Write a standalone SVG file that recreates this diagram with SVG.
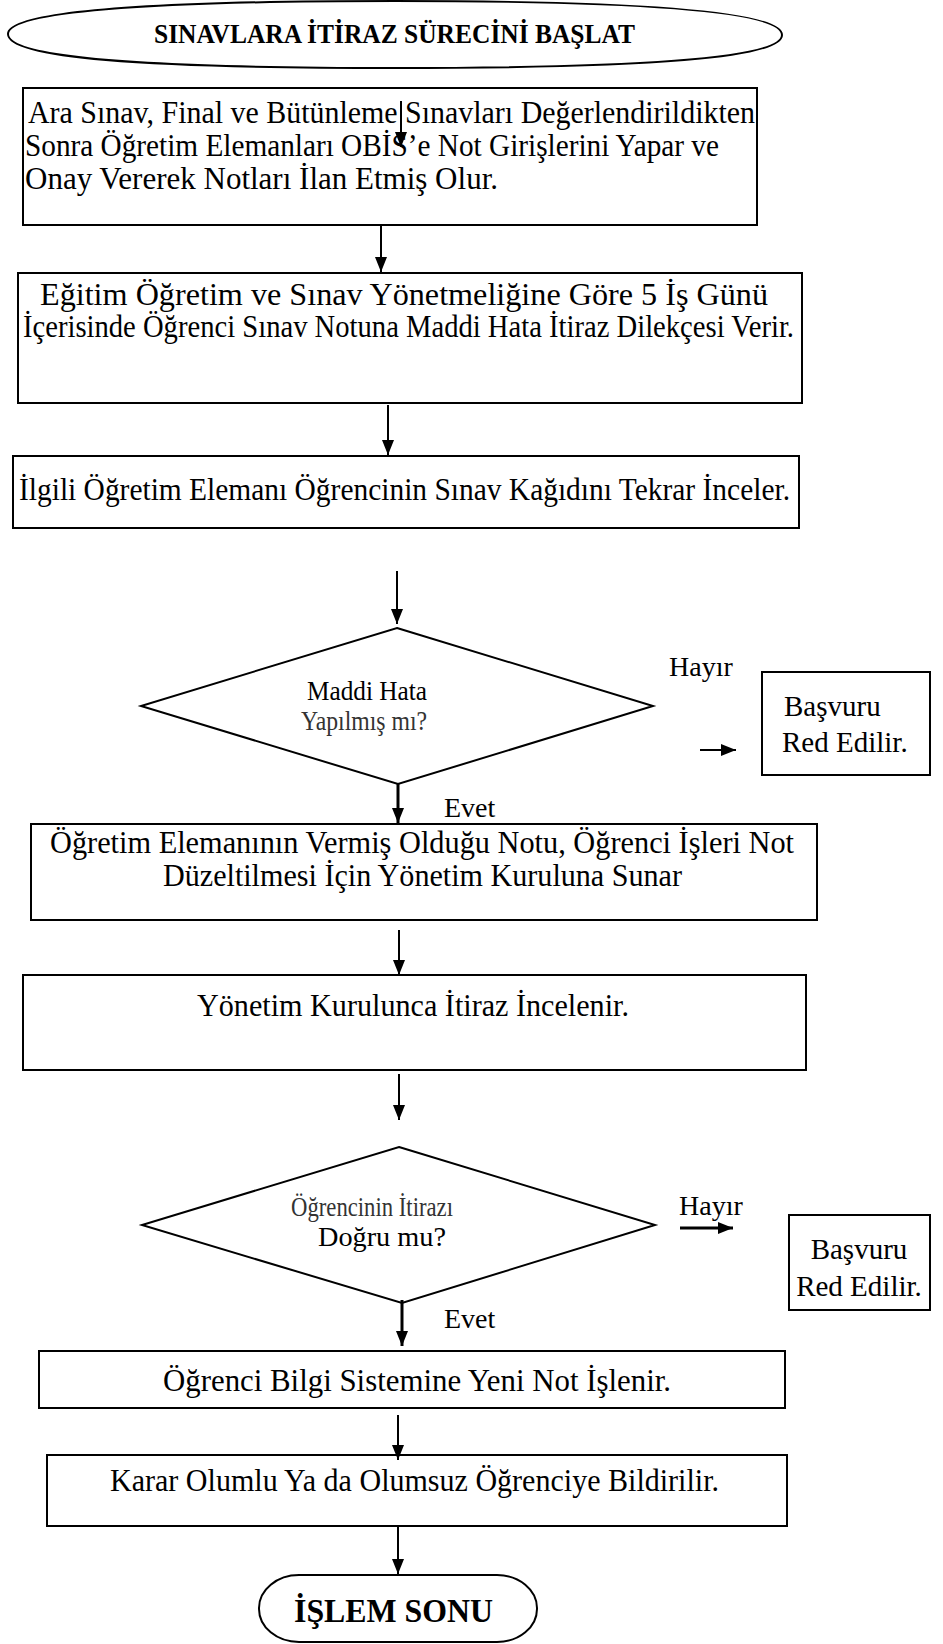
<svg xmlns="http://www.w3.org/2000/svg" width="943" height="1644" viewBox="0 0 943 1644">
<defs>
<marker id="ah" viewBox="0 0 15 12" refX="15" refY="6" markerWidth="15" markerHeight="12" markerUnits="userSpaceOnUse" orient="auto"><path d="M0,0 L15,6 L0,12 z" fill="#000"/></marker>
</defs>
<style>
.box{fill:#fff;stroke:#000;stroke-width:2}
.t{font-family:"Liberation Serif","Times New Roman",serif;font-size:31px;fill:#000}
.tr{font-family:"Liberation Serif","Times New Roman",serif;font-size:29px;fill:#000}
.tb{font-family:"Liberation Serif","Times New Roman",serif;font-weight:bold;fill:#000}
.td{font-family:"Liberation Serif","Times New Roman",serif;font-size:28px}
.c{fill:none;stroke:#000;stroke-width:2}
.ct{fill:none;stroke:#000;stroke-width:3}
</style>
<rect width="943" height="1644" fill="#fff"/>
<g id="start">
<path class="box" d="M8,34 C8,12 140,1 395,1 C650,1 782,12 782,35 C782,58 650,68 395,68 C140,68 8,58 8,34 Z"/>
<text class="tb" x="154" y="43" font-size="27" textLength="481" lengthAdjust="spacingAndGlyphs">SINAVLARA İTİRAZ SÜRECİNİ BAŞLAT</text>
</g>
<g id="n1">
<rect class="box" x="23" y="88" width="734" height="137"/>
<text class="t" x="28" y="123" textLength="727" lengthAdjust="spacingAndGlyphs">Ara Sınav, Final ve Bütünleme Sınavları Değerlendirildikten</text>
<text class="t" x="25" y="156" textLength="694" lengthAdjust="spacingAndGlyphs">Sonra Öğretim Elemanları OBİS’e Not Girişlerini Yapar ve</text>
<text class="t" x="25" y="189" textLength="473" lengthAdjust="spacingAndGlyphs">Onay Vererek Notları İlan Etmiş Olur.</text>
</g>
<g id="n2">
<rect class="box" x="18" y="273" width="784" height="130"/>
<text class="t" x="40" y="305" textLength="728" lengthAdjust="spacingAndGlyphs">Eğitim Öğretim ve Sınav Yönetmeliğine Göre 5 İş Günü</text>
<text class="t" x="23" y="337" textLength="771" lengthAdjust="spacingAndGlyphs">İçerisinde Öğrenci Sınav Notuna Maddi Hata İtiraz Dilekçesi Verir.</text>
</g>
<g id="n3">
<rect class="box" x="13" y="456" width="786" height="72"/>
<text class="t" x="19" y="500" textLength="771" lengthAdjust="spacingAndGlyphs">İlgili Öğretim Elemanı Öğrencinin Sınav Kağıdını Tekrar İnceler.</text>
</g>
<g id="d1">
<polygon class="box" points="397,628 653,706 398,784 141,706"/>
<text class="td" x="307" y="700" textLength="120" lengthAdjust="spacingAndGlyphs" fill="#000">Maddi Hata</text>
<text class="td" x="301" y="730" textLength="126" lengthAdjust="spacingAndGlyphs" fill="#333">Yapılmış mı?</text>
</g>
<g id="r1">
<rect class="box" x="762" y="672" width="168" height="103"/>
<text class="tr" x="784" y="716">Başvuru</text>
<text class="tr" x="782" y="752">Red Edilir.</text>
</g>
<g id="n4">
<rect class="box" x="31" y="824" width="786" height="96"/>
<text class="t" x="50" y="853" textLength="744" lengthAdjust="spacingAndGlyphs">Öğretim Elemanının Vermiş Olduğu Notu, Öğrenci İşleri Not</text>
<text class="t" x="163" y="886" textLength="519" lengthAdjust="spacingAndGlyphs">Düzeltilmesi İçin Yönetim Kuruluna Sunar</text>
</g>
<g id="n5">
<rect class="box" x="23" y="975" width="783" height="95"/>
<text class="t" x="197" y="1016" textLength="432" lengthAdjust="spacingAndGlyphs">Yönetim Kurulunca İtiraz İncelenir.</text>
</g>
<g id="d2">
<polygon class="box" points="399,1147 655,1225 402,1303 142,1225"/>
<text class="td" x="291" y="1216" textLength="162" lengthAdjust="spacingAndGlyphs" fill="#333">Öğrencinin İtirazı</text>
<text class="td" x="318" y="1246" textLength="128" lengthAdjust="spacingAndGlyphs" fill="#000">Doğru mu?</text>
</g>
<g id="r2">
<rect class="box" x="789" y="1215" width="141" height="95"/>
<text class="tr" x="859" y="1259" text-anchor="middle">Başvuru</text>
<text class="tr" x="859" y="1296" text-anchor="middle">Red Edilir.</text>
</g>
<g id="n6">
<rect class="box" x="39" y="1351" width="746" height="57"/>
<text class="t" x="163" y="1391" textLength="508" lengthAdjust="spacingAndGlyphs">Öğrenci Bilgi Sistemine Yeni Not İşlenir.</text>
</g>
<g id="n7">
<rect class="box" x="47" y="1455" width="740" height="71"/>
<text class="t" x="110" y="1491" textLength="609" lengthAdjust="spacingAndGlyphs">Karar Olumlu Ya da Olumsuz Öğrenciye Bildirilir.</text>
</g>
<g id="end">
<rect class="box" x="259" y="1575" width="278" height="67" rx="40" ry="33"/>
<text class="tb" x="294" y="1622" font-size="34" textLength="199" lengthAdjust="spacingAndGlyphs">İŞLEM SONU</text>
</g>
<g id="labels">
<text class="td" x="669" y="676">Hayır</text>
<text class="td" x="444" y="817">Evet</text>
<text class="td" x="679" y="1215">Hayır</text>
<text class="td" x="444" y="1328">Evet</text>
</g>
<g id="connectors">
<line class="c" x1="401" y1="101" x2="401" y2="147" marker-end="url(#ah)"/>
<line class="c" x1="381" y1="225" x2="381" y2="272" marker-end="url(#ah)"/>
<line class="c" x1="388" y1="405" x2="388" y2="455" marker-end="url(#ah)"/>
<line class="c" x1="397" y1="571" x2="397" y2="624" marker-end="url(#ah)"/>
<line class="ct" x1="398" y1="784" x2="398" y2="823" marker-end="url(#ah)"/>
<line class="c" x1="700" y1="750" x2="736" y2="750" marker-end="url(#ah)"/>
<line class="c" x1="399" y1="930" x2="399" y2="975" marker-end="url(#ah)"/>
<line class="c" x1="399" y1="1074" x2="399" y2="1120" marker-end="url(#ah)"/>
<line class="ct" x1="402" y1="1300" x2="402" y2="1346" marker-end="url(#ah)"/>
<line class="ct" x1="680" y1="1228" x2="733" y2="1228" marker-end="url(#ah)"/>
<line class="c" x1="398" y1="1415" x2="398" y2="1460" marker-end="url(#ah)"/>
<line class="c" x1="398" y1="1526" x2="398" y2="1574" marker-end="url(#ah)"/>
</g>
</svg>
